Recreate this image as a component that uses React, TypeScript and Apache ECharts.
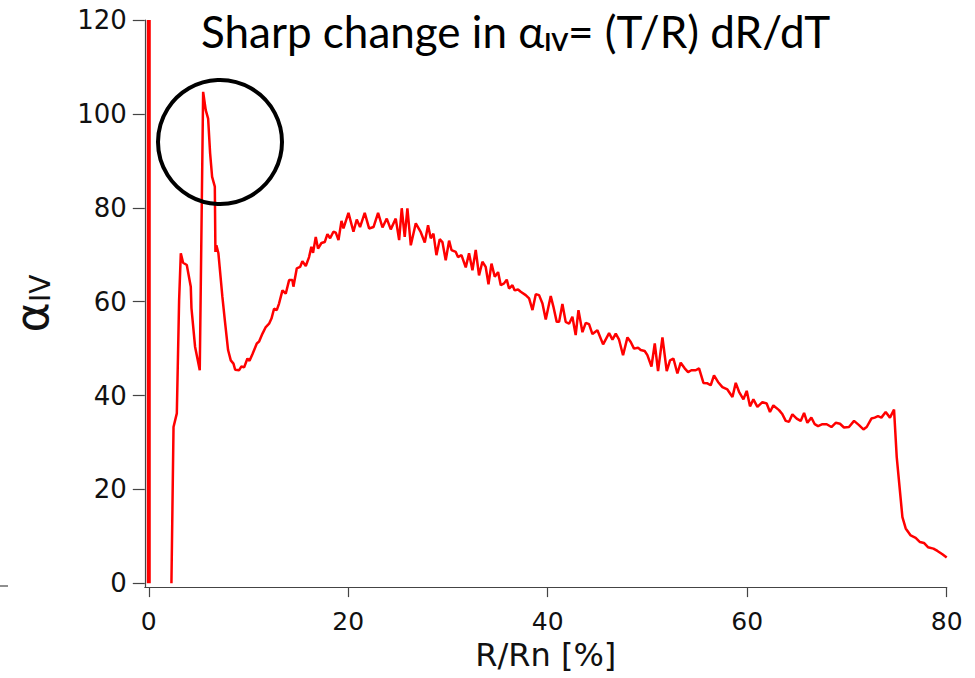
import React, { useEffect, useRef } from "react";
import * as echarts from "echarts";

// R/Rn [%] values (x) and alpha_IV values (y)
const rn: number[] = [
  2.27, 2.48, 2.81, 3.04, 3.21, 3.44, 3.81, 4.21, 4.28, 4.64, 5.11, 5.45, 5.71, 5.95, 6.15, 6.35, 6.62, 6.68, 6.78, 6.98,
  7.38, 7.62, 7.95, 8.22, 8.49, 8.66, 9.06, 9.29, 9.56, 9.89, 10.1, 10.39, 10.83, 11.06, 11.4, 11.73, 12.06, 12.3, 12.56, 12.83,
  13.06, 13.4, 13.73, 14.07, 14.4, 14.5, 14.84, 15.17, 15.4, 15.74, 16.07, 16.3, 16.47, 16.74, 16.97, 17.31, 17.64, 17.91, 18.18, 18.51,
  18.75, 19.02, 19.32, 19.52, 20.02, 20.52, 20.85, 21.18, 21.65, 22.09, 22.53, 22.99, 23.43, 23.86, 24.26, 24.76, 25.1, 25.36, 25.66, 25.93,
  26.27, 26.77, 27.27, 27.67, 28.0, 28.27, 28.54, 28.84, 29.17, 29.44, 29.77, 30.11, 30.35, 30.78, 31.0, 31.35, 31.78, 32.11, 32.45, 32.78,
  33.11, 33.45, 33.78, 34.06, 34.36, 34.69, 35.02, 35.29, 35.62, 35.89, 36.12, 36.46, 36.69, 37.02, 37.29, 37.79, 38.13, 38.47, 38.8, 39.13,
  39.47, 39.8, 40.3, 40.57, 40.9, 41.14, 41.47, 41.8, 42.14, 42.47, 42.8, 43.08, 43.48, 43.81, 44.14, 44.48, 44.98, 45.55, 46.15, 46.49,
  46.82, 47.15, 47.55, 47.99, 48.32, 48.65, 49.05, 49.32, 49.72, 49.99, 50.4, 50.73, 51.06, 51.5, 51.93, 52.26, 52.6, 53.0, 53.33, 53.73,
  54.07, 54.4, 54.84, 55.17, 55.61, 56.01, 56.34, 56.67, 57.07, 57.51, 58.01, 58.52, 58.85, 59.18, 59.62, 59.95, 60.28, 60.62, 61.02, 61.52,
  61.95, 62.28, 62.62, 63.19, 63.53, 63.86, 64.19, 64.53, 64.96, 65.36, 65.7, 66.03, 66.43, 66.77, 67.1, 67.54, 67.97, 68.44, 68.87, 69.3,
  69.7, 70.2, 70.71, 71.21, 71.65, 71.98, 72.45, 72.78, 73.11, 73.45, 73.88, 74.31, 74.72, 74.99, 75.56, 75.89, 76.39, 76.89, 77.32, 77.72,
  78.12, 78.67, 79.07, 79.57, 80.0,
];
const alpha: number[] = [
  0, 33.3, 36.2, 60.3, 70.3, 68.3, 67.8, 63.2, 58.6, 50.4, 45.4, 104.7, 100.8, 99.0, 91.6, 86.6, 84.5, 70.6, 72.0, 70.3,
  61.0, 56.1, 49.7, 47.5, 46.8, 45.5, 45.4, 46.2, 46.0, 47.9, 47.4, 48.8, 51.1, 51.5, 53.2, 54.6, 55.3, 56.4, 58.5, 58.2,
  59.6, 62.4, 61.7, 64.6, 64.6, 63.2, 67.1, 67.4, 68.6, 67.6, 69.5, 71.7, 70.4, 73.8, 71.3, 72.5, 72.7, 74.4, 73.5, 74.9,
  74.7, 73.1, 77.2, 75.6, 78.9, 74.9, 77.5, 75.9, 78.9, 75.6, 75.9, 78.9, 75.8, 77.7, 75.4, 77.7, 73.1, 79.9, 73.8, 79.9,
  72.0, 76.7, 74.8, 72.6, 76.3, 73.5, 74.5, 69.9, 73.3, 72.7, 68.8, 73.0, 71.0, 70.6, 69.5, 69.9, 67.3, 70.3, 66.7, 71.0,
  65.6, 68.5, 67.4, 63.7, 68.1, 65.3, 66.3, 63.5, 63.9, 64.7, 62.8, 63.5, 62.4, 62.6, 62.1, 61.4, 60.7, 58.2, 61.6, 61.4,
  59.6, 56.2, 61.2, 58.9, 55.7, 55.7, 59.5, 55.7, 55.3, 56.8, 52.9, 58.2, 53.5, 55.5, 55.2, 53.1, 53.9, 50.9, 53.3, 51.9,
  53.2, 51.9, 48.6, 52.4, 51.4, 50.0, 50.2, 49.7, 49.5, 48.6, 46.2, 51.1, 45.2, 52.4, 45.2, 47.5, 47.9, 44.7, 47.0, 45.8,
  45.0, 45.4, 45.4, 45.8, 42.7, 42.6, 42.2, 44.3, 42.9, 41.8, 41.3, 39.7, 42.7, 40.8, 39.2, 41.0, 37.7, 39.2, 37.6, 38.6,
  38.3, 36.5, 37.9, 36.9, 36.0, 34.6, 34.4, 36.0, 35.1, 34.6, 36.3, 34.2, 35.3, 33.9, 33.5, 33.9, 33.9, 33.3, 34.2, 34.0,
  33.2, 33.3, 34.6, 33.7, 32.8, 33.3, 35.1, 35.3, 35.6, 35.3, 36.5, 35.3, 37.0, 26.9, 14.1, 11.7, 10.2, 9.7, 8.8, 8.6,
  7.7, 7.4, 6.9, 6.2, 5.5,
];
// the vertical trace at R/Rn = 0
const zeroLineX: number[] = [0, 0];
const zeroLineY: number[] = [0, 120];

const xTicks: number[] = [0, 20, 40, 60, 80];
const yTicks: number[] = [0, 20, 40, 60, 80, 100, 120];

export default function App() {
  const ref = useRef<HTMLDivElement>(null);
  useEffect(() => {
    document.body.style.margin = "0";
    if (!ref.current) return;
    const chart = echarts.init(ref.current, null, { renderer: "svg" });
    const axisColor = "#444";
    const labelFont = "DejaVu Sans";
    chart.setOption({
      animation: false,
      backgroundColor: "#fff",
      title: {
        text: "{a|Sharp change in α}{s|IV}{a|= (T/R) dR/dT}",
        left: 196,
        top: 4,
        textStyle: {
          rich: {
            a: { fontSize: 44, fontFamily: "Lato", color: "#000", fontWeight: "normal" },
            s: { fontSize: 24, fontFamily: "Lato", color: "#000", verticalAlign: "bottom", padding: [16, 0, 0, 0] },
          },
        },
      },
      grid: { left: 144.8, right: 28.3, top: 20, bottom: 90.9, containLabel: false, outerBoundsMode: "none" },
      xAxis: {
        type: "value",
        min: -0.4,
        max: 80,
        splitLine: { show: false },
        axisLine: { show: true, onZero: false, lineStyle: { color: axisColor, width: 1.2 } },
        axisTick: { show: true, length: 10, customValues: xTicks, lineStyle: { color: axisColor, width: 1.2 } },
        axisLabel: { customValues: xTicks, fontSize: 25, fontFamily: labelFont, color: "#111", margin: 22 },
        name: "R/Rn [%]",
        nameLocation: "middle",
        nameGap: 52,
        nameTextStyle: { fontSize: 32, fontFamily: labelFont, color: "#111" },
      },
      yAxis: {
        type: "value",
        min: -0.8,
        max: 120,
        splitLine: { show: false },
        axisLine: { show: true, onZero: false, lineStyle: { color: axisColor, width: 1.2 } },
        axisTick: { show: true, length: 12, customValues: yTicks, lineStyle: { color: axisColor, width: 1.2 } },
        axisLabel: { customValues: yTicks, fontSize: 26, fontFamily: labelFont, color: "#111", margin: 18 },
        name: "{a|α}{s|IV}",
        nameLocation: "middle",
        nameRotate: 90,
        nameGap: 90,
        nameTextStyle: {
          rich: {
            a: { fontSize: 46, fontFamily: labelFont, color: "#111", lineHeight: 46 },
            s: { fontSize: 28, fontFamily: labelFont, color: "#111", verticalAlign: "bottom", lineHeight: 46 },
          },
        },
      },
      series: [
        {
          type: "line",
          data: zeroLineX.map((x, i) => [x, zeroLineY[i]]),
          showSymbol: false,
          lineStyle: { color: "#ff0000", width: 4 },
          silent: true,
        },
        {
          type: "line",
          data: rn.map((x, i) => [x, alpha[i]]),
          showSymbol: false,
          lineStyle: { color: "#ff0000", width: 2.5 },
          silent: true,
        },
      ],
      graphic: [
        {
          type: "circle",
          shape: { cx: 220, cy: 142, r: 62 },
          style: { fill: "none", stroke: "#000", lineWidth: 4 },
          z: 100,
        },
        {
          type: "line",
          shape: { x1: 0, y1: 586, x2: 8, y2: 586 },
          style: { stroke: "#444", lineWidth: 1.2 },
        },
      ],
    });
    return () => chart.dispose();
  }, []);
  return <div ref={ref} style={{ width: 975, height: 678 }} />;
}
